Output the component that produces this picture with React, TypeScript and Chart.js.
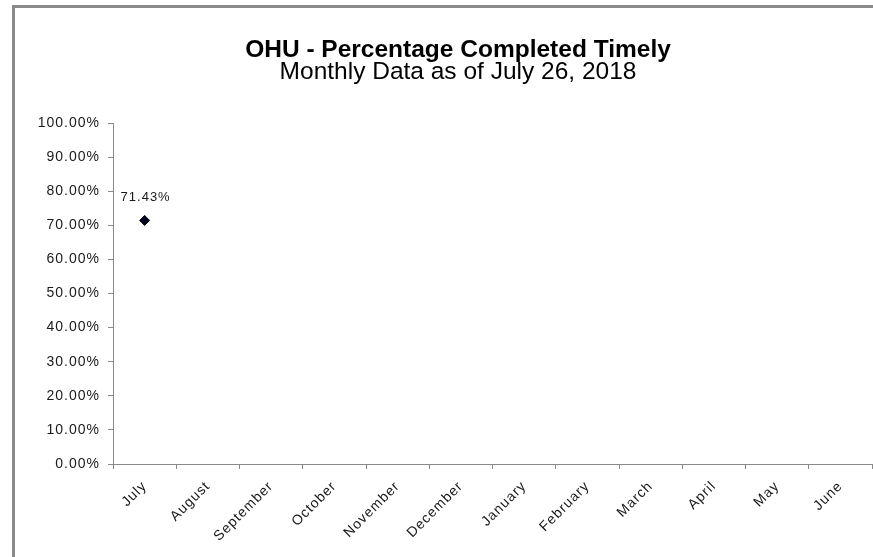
import React, { useEffect, useRef } from "react";
import { Chart, registerables } from "chart.js";

Chart.register(...registerables);

const titleText = "OHU - Percentage Completed Timely";
const subtitleText = "Monthly Data as of July 26, 2018";
const months = ["July", "August", "September", "October", "November", "December", "January", "February", "March", "April", "May", "June"];
const pctValues: (number | null)[] = [0.7143, null, null, null, null, null, null, null, null, null, null, null];
const yMin = 0;
const yMax = 1;
const yStep = 0.1;

const FONT = "'Liberation Sans', Arial, sans-serif";

const spacingPlugin = {
  id: "spacing",
  beforeDraw(chart: any) {
    (chart.ctx as any).letterSpacing = "1px";
  },
};

const titlePlugin = {
  id: "customTitle",
  afterDraw(chart: any) {
    const ctx = chart.ctx;
    const cx = chart.width / 2;
    ctx.save();
    (ctx as any).letterSpacing = "0px";
    ctx.fillStyle = "#000";
    ctx.textAlign = "center";
    ctx.textBaseline = "middle";
    ctx.font = `bold 24.5px ${FONT}`;
    ctx.fillText(titleText, cx, 42);
    ctx.font = `24.5px ${FONT}`;
    ctx.fillText(subtitleText, cx, 64);
    ctx.restore();
  },
};

const labelPlugin = {
  id: "pointLabels",
  afterDatasetsDraw(chart: any) {
    const ctx = chart.ctx;
    const meta = chart.getDatasetMeta(0);
    ctx.save();
    (ctx as any).letterSpacing = "1px";
    ctx.fillStyle = "#1a1a1a";
    ctx.font = `13px ${FONT}`;
    ctx.textAlign = "center";
    ctx.textBaseline = "middle";
    meta.data.forEach((el: any, i: number) => {
      const v = pctValues[i];
      if (v === null || v === undefined) return;
      ctx.fillText((v * 100).toFixed(2) + "%", el.x + 1, el.y - 23);
    });
    ctx.restore();
  },
};

export default function App() {
  const ref = useRef<HTMLCanvasElement | null>(null);
  useEffect(() => {
    if (!ref.current) return;
    const chart = new Chart(ref.current, {
      type: "line",
      data: {
        labels: months,
        datasets: [
          {
            data: pctValues,
            showLine: false,
            pointStyle: "rectRot",
            pointRadius: 5,
            pointBackgroundColor: "#000018",
            pointBorderColor: "#000018",
            pointBorderWidth: 1,
          },
        ],
      },
      options: {
        responsive: false,
        animation: false,
        layout: { padding: { left: 0, right: 29, top: 115, bottom: 0 } },
        plugins: {
          legend: { display: false },
          title: { display: false },
          tooltip: { enabled: false },
        },
        scales: {
          x: {
            offset: true,
            grid: {
              offset: true,
              drawOnChartArea: false,
              drawTicks: true,
              tickLength: 5,
              color: "#8a8a8a",
            },
            border: { display: true, color: "#8a8a8a", width: 1 },
            ticks: {
              autoSkip: false,
              minRotation: 45,
              maxRotation: 45,
              padding: 9,
              color: "#1a1a1a",
              font: { family: FONT, size: 14 },
            },
            afterFit(scale: any) {
              scale.height = 93;
            },
          },
          y: {
            min: yMin,
            max: yMax,
            grid: {
              drawOnChartArea: false,
              drawTicks: true,
              tickLength: 5,
              color: "#8a8a8a",
            },
            border: { display: true, color: "#8a8a8a", width: 1 },
            ticks: {
              stepSize: yStep,
              padding: 8,
              color: "#1a1a1a",
              font: { family: FONT, size: 14 },
              callback: (v: any) => (Number(v) * 100).toFixed(2) + "%",
            },
            afterFit(scale: any) {
              scale.width = 98;
            },
          },
        },
      },
      plugins: [spacingPlugin, titlePlugin, labelPlugin],
    });
    return () => chart.destroy();
  }, []);

  return (
    <div style={{ position: "fixed", left: 0, top: 0, width: 873, height: 557, overflow: "hidden", background: "#fff" }}>
      <div
        style={{
          position: "absolute",
          left: 12,
          top: 5,
          width: 886,
          height: 549,
          borderLeft: "3px solid #8a8a8a",
          borderTop: "3px solid #8a8a8a",
        }}
      >
        <canvas ref={ref} width={886} height={549} style={{ display: "block" }} />
      </div>
    </div>
  );
}
